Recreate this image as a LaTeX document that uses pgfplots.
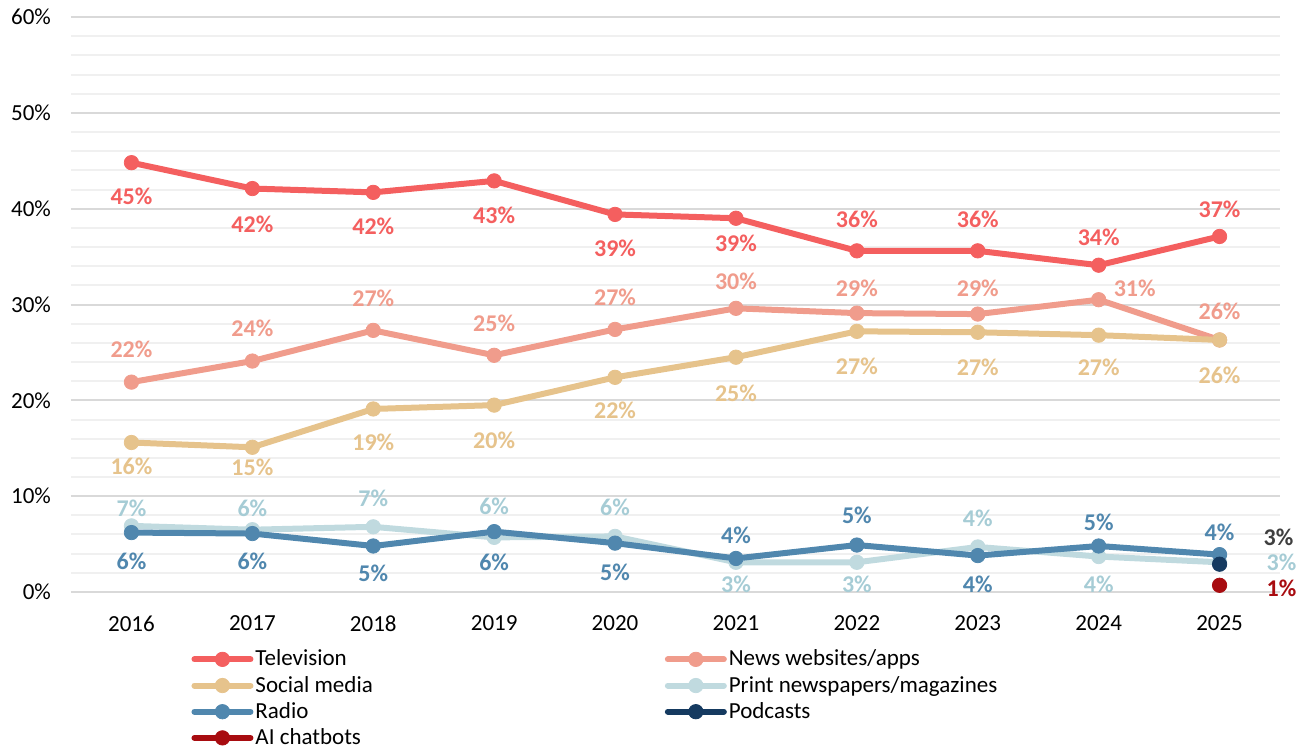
\documentclass[border=0pt]{standalone}
\usepackage{fontspec}
\setmainfont{Carlito}
\usepackage{pgfplots}
\usepackage{pgfplotstable}
\pgfplotsset{compat=1.18}

\definecolor{tvc}{HTML}{F45F5F}
\definecolor{newsc}{HTML}{F09C8C}
\definecolor{socialc}{HTML}{E6C38C}
\definecolor{printc}{HTML}{C0DADF}
\definecolor{printlab}{HTML}{A6CCD5}
\definecolor{radioc}{HTML}{5087AE}
\definecolor{podc}{HTML}{153A60}
\definecolor{podlab}{HTML}{3F3F3F}
\definecolor{aic}{HTML}{A80C10}
\definecolor{gridmaj}{HTML}{D9D9D9}
\definecolor{gridmin}{HTML}{F0F0F0}

\pgfplotstableread{
x y lab dx dy
0 44.8 45 0 -17
1 42.1 42 0 -18
2 41.7 42 0 -17
3 42.9 43 0 -17
4 39.4 39 0 -17
5 39.0 39 0 -12.5
6 35.6 36 0 16
7 35.6 36 0 16
8 34.1 34 0 14
9 37.1 37 0 13.5
}\tvdata

\pgfplotstableread{
x y lab dx dy
0 21.9 22 0 16.5
1 24.1 24 0 16.5
2 27.3 27 0 16
3 24.7 25 0 16
4 27.4 27 0 16
5 29.6 30 0 13.5
6 29.1 29 0 12.5
7 29.0 29 0 13
8 30.5 31 18 5.5
9 26.3 26 0 14.5
}\newsdata

\pgfplotstableread{
x y lab dx dy
0 15.6 16 0 -12
1 15.1 15 0 -10
2 19.1 19 0 -16.5
3 19.5 20 0 -17.5
4 22.4 22 0 -16.5
5 24.5 25 0 -18
6 27.2 27 0 -17.5
7 27.1 27 0 -17.5
8 26.8 27 0 -16
9 26.3 26 0 -17.5
}\socialdata

\pgfplotstableread{
x y lab dx dy
0 6.9 7 0 9
1 6.5 6 0 10.5
2 6.8 7 0 14.5
3 5.7 6 0 15.5
4 5.8 6 0 14.5
5 3.1 3 0 -11
6 3.1 3 0 -11
7 4.7 4 0 14.5
8 3.7 4 0 -14
9 3.1 3 31 0
}\printdata

\pgfplotstableread{
x y lab dx dy
0 6.2 6 0 -14.5
1 6.1 6 0 -14
2 4.8 5 0 -13.5
3 6.3 6 0 -15.5
4 5.1 5 0 -14.5
5 3.5 4 0 11.5
6 4.9 5 0 15
7 3.8 4 0 -14.5
8 4.8 5 0 12
9 3.9 4 0 11
}\radiodata

\pgfplotstableread{
x y lab dx dy
9 2.9 3 29.5 13.5
}\poddata

\pgfplotstableread{
x y lab dx dy
9 0.7 1 31 -1.5
}\aidata

\pgfplotsset{
  ser/.style 2 args={
    color=#1, line width=3pt, line join=round, line cap=round,
    mark=*, mark size=3.6pt, mark options={solid, line width=0.4pt, fill=#1, draw=#1},
    point meta=explicit symbolic,
    visualization depends on={\thisrow{dx}\as\lblx},
    visualization depends on={\thisrow{dy}\as\lbly},
    nodes near coords={\pgfplotspointmeta\%},
    every node near coord/.append style={font=\fontsize{12}{14}\selectfont\bfseries,
      text=#2, anchor=center, inner sep=0pt, xshift=\lblx pt, yshift=\lbly pt},
  },
}

\begin{document}
\begin{tikzpicture}
\path[use as bounding box] (-35.5pt,-78.5pt) rectangle (618pt,296pt);
\begin{axis}[
  at={(0pt,0pt)}, anchor=south west,
  scale only axis, width=604.5pt, height=287.5pt,
  xmin=-0.5, xmax=9.5, ymin=0, ymax=60,
  xtick={0,...,9},
  xticklabels={2016,2017,2018,2019,2020,2021,2022,2023,2024,2025},
  ytick={0,10,...,60},
  yticklabel={\pgfmathprintnumber{\tick}\%},
  minor y tick num=4,
  ymajorgrids, yminorgrids,
  major grid style={color=gridmaj, line width=1pt},
  minor grid style={color=gridmin, line width=1pt},
  axis line style={draw=none},
  major tick length=0pt, minor tick length=0pt,
  tick style={draw=none},
  tick label style={font=\fontsize{11.5}{13}\selectfont},
  xticklabel style={yshift=-8.5pt},
  yticklabel style={xshift=-6.5pt},
  /pgf/number format/assume math mode=true,
  clip=false,
  legend columns=2,
  legend cell align=left,
  legend image code/.code={\draw[#1, mark repeat=2, mark phase=2] plot coordinates {(0pt,0pt)(14pt,0pt)(28pt,0pt)};},
  legend style={at={(0.0993,-0.0965)}, anchor=north west, draw=none, fill=none,
    inner sep=0pt, row sep=1.6pt, font=\fontsize{11.5}{13}\selectfont,
    nodes={inner sep=1pt},
    /tikz/every even column/.append style={column sep=145pt}},
]
\addplot[ser={tvc}{tvc}] table[x=x, y=y, meta=lab] {\tvdata};
\addlegendentry{Television}
\addplot[ser={newsc}{newsc}] table[x=x, y=y, meta=lab] {\newsdata};
\addlegendentry{News websites/apps}
\addplot[ser={socialc}{socialc}] table[x=x, y=y, meta=lab] {\socialdata};
\addlegendentry{Social media}
\addplot[ser={printc}{printlab}] table[x=x, y=y, meta=lab] {\printdata};
\addlegendentry{Print newspapers/magazines}
\addplot[ser={radioc}{radioc}] table[x=x, y=y, meta=lab] {\radiodata};
\addlegendentry{Radio}
\addplot[ser={podc}{podlab}] table[x=x, y=y, meta=lab] {\poddata};
\addlegendentry{Podcasts}
\addplot[ser={aic}{aic}] table[x=x, y=y, meta=lab] {\aidata};
\addlegendentry{AI chatbots}
\end{axis}
\end{tikzpicture}
\end{document}
